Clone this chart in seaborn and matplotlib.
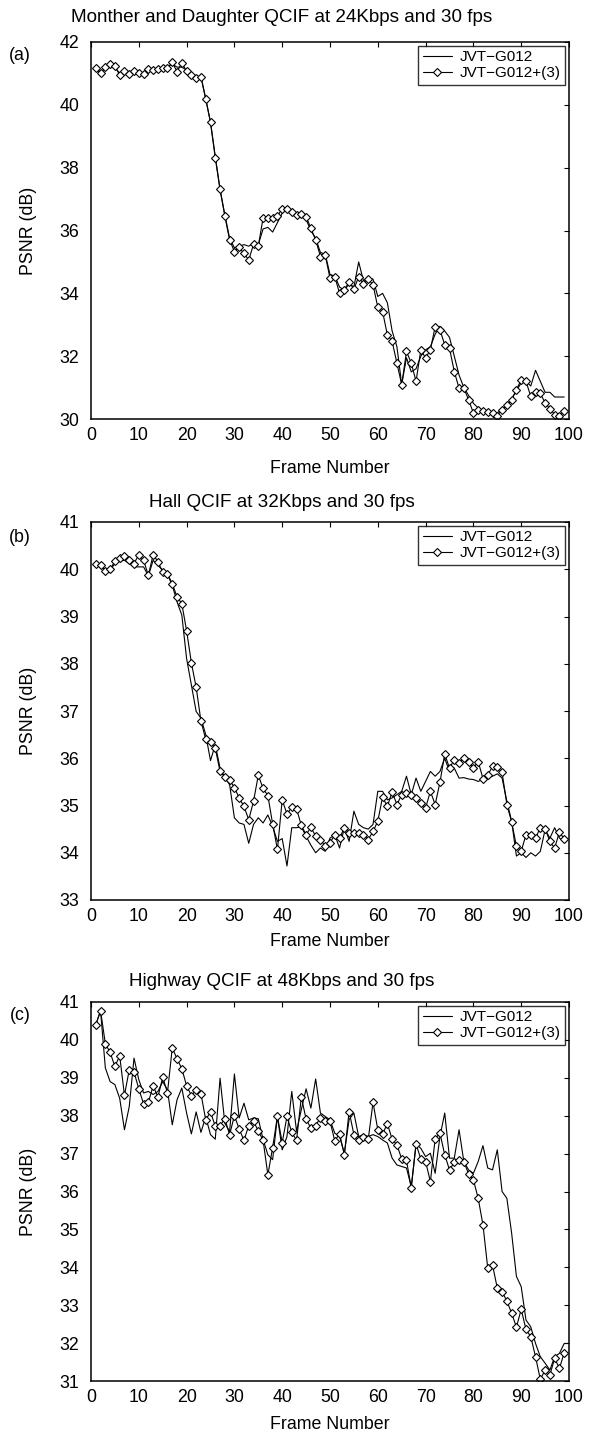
import matplotlib
matplotlib.use("Agg")
import matplotlib.pyplot as plt
import seaborn as sns

sns.set_theme(style="white")
plt.rcParams['font.family'] = ['Liberation Sans', 'DejaVu Sans']
plt.rcParams['text.color'] = 'black'
plt.rcParams['axes.labelcolor'] = 'black'
plt.rcParams['xtick.color'] = 'black'
plt.rcParams['ytick.color'] = 'black'

#%% data

frames = list(range(1, 100))
frames_c_g012 = list(range(1, 101))   # last G012 point of panel (c) is at frame 100

# (a) Mother and Daughter, 24 Kbps
a_g012 = [41.15, 41.05, 41.15, 41.25, 41.2, 41.0, 41.05, 41.05, 41.05, 41.0,
          41.0, 41.1, 41.1, 41.15, 41.15, 41.2, 41.3, 41.2, 41.2, 41.1,
          41.0, 40.9, 40.9, 40.2, 39.45, 38.35, 37.3, 36.5, 35.75, 35.45,
          35.5, 35.55, 35.5, 35.6, 35.55, 36.05, 36.1, 35.95, 36.25, 36.55,
          36.7, 36.55, 36.45, 36.5, 36.35, 36.0, 35.75, 35.3, 35.25,
          34.6, 34.55, 34.2, 34.1, 34.3, 34.2, 35.0, 34.4, 34.5, 34.45,
          33.9, 34.0, 33.7, 32.8, 32.3, 31.1, 31.95, 31.5, 31.6, 32.0,
          32.2, 32.3, 32.7, 32.95, 32.8, 32.6, 32.0, 31.4, 31.0, 30.75,
          30.5, 30.35, 30.25, 30.2, 30.15, 30.2, 30.3, 30.45, 30.65, 30.9,
          31.15, 31.2, 31.05, 31.55, 31.2, 30.85, 30.85, 30.7, 30.7, 30.7]
a_g012_3 = [41.17, 41.0, 41.2, 41.29, 41.24, 40.94, 41.08, 40.99, 41.09, 41.0,
            40.98, 41.14, 41.12, 41.14, 41.18, 41.17, 41.36, 41.05, 41.34, 41.07,
            40.96, 40.86, 40.89, 40.18, 39.44, 38.32, 37.31, 36.46, 35.7, 35.33,
            35.46, 35.27, 35.06, 35.56, 35.5, 36.4, 36.4, 36.4, 36.46, 36.7,
            36.67, 36.6, 36.48, 36.54, 36.44, 36.07, 35.7, 35.17, 35.22,
            34.48, 34.53, 34.0, 34.11, 34.37, 34.13, 34.53, 34.3, 34.45, 34.27,
            33.56, 33.42, 32.68, 32.47, 31.78, 31.09, 32.15, 31.78, 31.2, 32.2,
            31.94, 32.2, 32.94, 32.84, 32.36, 32.25, 31.51, 30.98, 30.98, 30.61,
            30.19, 30.29, 30.26, 30.21, 30.19, 30.11, 30.29, 30.45, 30.61, 30.93,
            31.25, 31.2, 30.72, 30.85, 30.82, 30.51, 30.33, 30.14, 30.08, 30.26]

# (b) Hall, 32 Kbps
b_g012 = [40.05, 40.08, 39.98, 39.98, 40.12, 40.17, 40.19, 40.12, 40.05, 40.05,
          40.05, 39.86, 40.19, 40.08, 39.98, 39.89, 39.66, 39.31, 39.03, 38.11,
          37.55, 36.99, 36.85, 36.5, 35.95, 36.29, 35.79, 35.6, 35.44, 34.74,
          34.63, 34.6, 34.2, 34.6, 34.74, 34.63, 34.8, 34.56, 34.24, 34.3,
          33.72, 34.53, 34.53, 34.55, 34.35, 34.16, 34.0, 34.1, 34.03,
          34.31, 34.38, 34.1, 34.53, 34.24, 34.88, 34.6, 34.53, 34.5, 34.6,
          35.3, 35.3, 35.12, 35.16, 35.23, 35.3, 35.62, 35.23, 35.58, 35.3,
          35.51, 35.72, 35.62, 35.72, 36.0, 35.72, 35.79, 35.58, 35.59, 35.56,
          35.55, 35.51, 35.55, 35.58, 35.62, 35.67, 35.58, 35.09, 34.67, 33.93,
          34.0, 33.9, 34.0, 33.93, 34.03, 34.49, 34.31, 34.53, 34.31, 34.24]
b_g012_3 = [40.12, 40.1, 39.96, 40.0, 40.17, 40.23, 40.28, 40.19, 40.12, 40.31,
            40.19, 39.87, 40.31, 40.16, 39.94, 39.91, 39.69, 39.42, 39.27, 38.7,
            38.02, 37.5, 36.79, 36.4, 36.34, 36.21, 35.72, 35.6, 35.54, 35.38,
            35.16, 34.98, 34.7, 35.09, 35.64, 35.36, 35.21, 34.61, 34.07, 35.12,
            34.82, 34.96, 34.93, 34.58, 34.38, 34.54, 34.35, 34.28, 34.14,
            34.21, 34.38, 34.31, 34.53, 34.42, 34.42, 34.42, 34.38, 34.28, 34.45,
            34.67, 35.18, 34.98, 35.29, 35.02, 35.23, 35.26, 35.23, 35.16, 35.05,
            34.95, 35.3, 35.02, 35.49, 36.09, 35.79, 35.97, 35.9, 36.0, 35.93,
            35.79, 35.93, 35.57, 35.64, 35.83, 35.81, 35.7, 35.02, 34.65, 34.14,
            34.03, 34.38, 34.38, 34.31, 34.53, 34.51, 34.24, 34.1, 34.44, 34.29]

# (c) Highway, 48 Kbps
c_g012 = [40.4, 40.77, 39.26, 38.9, 38.82, 38.46, 37.63, 38.24, 39.52, 38.95,
          38.6, 38.64, 38.56, 38.64, 38.9, 38.68, 37.76, 38.42, 38.73, 38.07,
          37.52, 38.1, 37.56, 37.97, 37.5, 37.38, 38.99, 37.8, 37.58, 39.1,
          37.94, 38.33, 37.89, 37.94, 37.92, 37.37, 36.97, 36.84, 37.98, 37.1,
          37.45, 38.64, 37.59, 38.16, 38.71, 38.2, 38.97, 38.07, 37.98,
          37.89, 37.54, 37.45, 37.01, 37.9, 38.07, 37.45, 37.5, 37.45, 37.5,
          37.45, 37.36, 37.28, 36.88, 36.7, 36.66, 36.62, 36.13, 37.25, 37.14,
          36.92, 37.01, 36.48, 37.45, 38.07, 36.88, 36.88, 37.63, 36.79, 36.57,
          36.48, 36.79, 37.21, 36.62, 36.57, 37.1, 36.0, 35.82, 34.9, 33.76,
          33.49, 32.61, 32.43, 31.99, 31.64, 31.47, 31.29, 31.64, 31.73, 31.99,
          31.99]
c_g012_3 = [40.4, 40.77, 39.9, 39.67, 39.3, 39.58, 38.54, 39.21, 39.15, 38.71,
            38.31, 38.35, 38.79, 38.49, 39.01, 38.61, 39.79, 39.5, 39.24, 38.79,
            38.53, 38.68, 38.58, 37.89, 38.1, 37.72, 37.74, 37.92, 37.5, 38.0,
            37.65, 37.35, 37.74, 37.85, 37.6, 37.35, 36.44, 37.16, 37.98, 37.29,
            37.98, 37.56, 37.35, 38.49, 37.91, 37.67, 37.74, 37.95, 37.87,
            37.85, 37.34, 37.52, 36.97, 38.11, 37.5, 37.36, 37.45, 37.38, 38.35,
            37.63, 37.52, 37.79, 37.38, 37.23, 36.86, 36.82, 36.09, 37.25, 36.86,
            36.79, 36.26, 37.39, 37.54, 36.97, 36.57, 36.77, 36.84, 36.79, 36.46,
            36.31, 35.82, 35.12, 33.98, 34.06, 33.45, 33.36, 33.11, 32.79, 32.42,
            32.89, 32.36, 32.17, 31.64, 31.04, 31.29, 31.16, 31.6, 31.33, 31.75]

titles = ["Monther and Daughter QCIF at 24Kbps and 30 fps",
          "Hall QCIF at 32Kbps and 30 fps",
          "Highway QCIF at 48Kbps and 30 fps"]
tags = ["(a)", "(b)", "(c)"]
legend_labels = ["JVT\u2212G012", "JVT\u2212G012+(3)"]
y_limits = [(30, 42), (33, 41), (31, 41)]
y_ticks = [list(range(30, 43, 2)), list(range(33, 42)), list(range(31, 42))]
x_ticks = list(range(0, 101, 10))

#%% figure

W, H = 592, 1436
fig = plt.figure(figsize=(W / 100, H / 100), dpi=100)

# axes boxes in pixels: left, right, top, bottom
boxes_px = [(91, 569, 42, 419), (91, 569, 522, 900), (91, 569, 1002, 1381)]
title_y_px = [18, 502, 981]
tag_y_px = [55, 538, 1015]
xlabel_top_px = [460, 933, 1416]

panels = [(frames, a_g012, frames, a_g012_3),
          (frames, b_g012, frames, b_g012_3),
          (frames_c_g012, c_g012, frames, c_g012_3)]

fs = 12.8

for i, (x1, y1, x2, y2) in enumerate(panels):
    l, r, t, b = boxes_px[i]
    ax = fig.add_axes((l / W, 1 - b / H, (r - l) / W, (b - t) / H))

    sns.lineplot(x=x1, y=y1, ax=ax, color="black", linewidth=0.8,
                 label=legend_labels[0])
    sns.lineplot(x=x2, y=y2, ax=ax, color="black", linewidth=0.8,
                 marker="D", markersize=4.2, markerfacecolor="white",
                 markeredgecolor="black", markeredgewidth=0.8,
                 label=legend_labels[1])

    ax.set_xlim(0, 100)
    ax.set_ylim(*y_limits[i])
    ax.set_xticks(x_ticks)
    ax.set_yticks(y_ticks[i])
    ax.tick_params(direction="in", length=3.6, width=0.8, top=True, right=True,
                   labelsize=fs, colors="black")
    ax.tick_params(axis="y", pad=8.5)
    ax.tick_params(axis="x", pad=6.0)
    for sp in ax.spines.values():
        sp.set_color("black")
        sp.set_linewidth(1.1)

    ax.set_xlabel("Frame Number", fontsize=fs)
    ax.set_ylabel("PSNR (dB)", fontsize=fs)
    ax.xaxis.set_label_coords(0.5, -(xlabel_top_px[i] - b) / (b - t))
    ax.yaxis.set_label_coords(-0.114, 0.5)

    leg = ax.legend(loc="upper right", fontsize=11, frameon=True,
                    fancybox=False, borderaxespad=0.25, borderpad=0.3,
                    labelspacing=0.12, handlelength=1.9, handletextpad=0.5)
    leg.get_frame().set_edgecolor("black")
    leg.get_frame().set_linewidth(1.0)

    # titles sit a bit left of the axes centre, as in the reference
    fig.text(282 / W, 1 - title_y_px[i] / H, titles[i], fontsize=13.6,
             ha="center", va="center")
    fig.text(20 / W, 1 - tag_y_px[i] / H, tags[i], fontsize=fs,
             ha="center", va="center")

fig.savefig("out.png", dpi=100)
